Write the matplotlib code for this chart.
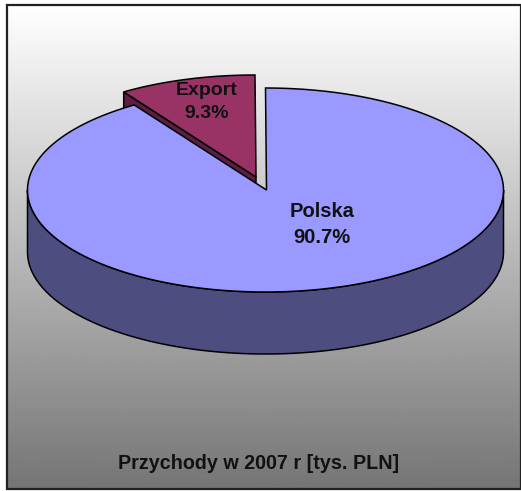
"""
plot.py - 3D look pie, Przychody w 2007 r
"""

import numpy as np
import matplotlib
matplotlib.use("Agg")
import matplotlib.pyplot as plt
from matplotlib.patches import Polygon, Rectangle

plt.rcParams["font.family"] = ["Liberation Sans", "DejaVu Sans"]

categories = ["Polska", "Export"]
shares = [90.7, 9.3]
title = "Przychody w 2007 r [tys. PLN]"

W, H = 521, 491
CX, CY = 265.5, 190    # centre of pie top, pixels
RX, RY = 238, 102
DEPTH = 62
EXPLODE = (-10.5, -13)   # Export slice offset

fig = plt.figure(figsize=(W / 100, H / 100), dpi=100)
ax = fig.add_axes([0, 0, 1, 1])
ax.set_xlim(0, W)
ax.set_ylim(H, 0)
ax.axis("off")

# background gradient inside frame
grad = np.linspace(1.0, 0.46, 256).reshape(-1, 1)
ax.imshow(grad, cmap="gray", vmin=0, vmax=1, extent=(7, W, 489, 5), aspect="auto", zorder=0)
ax.set_xlim(0, W)
ax.set_ylim(H, 0)
ax.add_patch(Rectangle((7, 5), W - 7.5, 484, fill=False, ec="#222222", lw=1.6, zorder=1))


def rim(a0, a1, dx=0, dy=0, n=200):
    # angles in degrees, clockwise from 12 o'clock
    t = np.radians(np.linspace(a0, a1, n))
    return np.column_stack([CX + dx + RX * np.sin(t), CY + dy - RY * np.cos(t)])


polska_end = shares[0] / sum(shares) * 360
apex = np.array([[CX + 1, CY]])
eapex = np.array([[CX + 1 + EXPLODE[0], CY + EXPLODE[1]]])
drop = np.array([0, DEPTH])

# Export slice: side first, top after, Polska covers the rest
etop = rim(polska_end, 360, *EXPLODE)
ax.add_patch(Polygon(np.vstack([etop[:1], eapex, eapex + drop, etop[:1] + drop]),
                     fc="#5a1f42", ec="black", lw=1.1, zorder=2))
ax.add_patch(Polygon(np.vstack([eapex, etop]), fc="#993366", ec="black", lw=1.1, zorder=3))

# Polska side wall then top
front = rim(90, 270)
ax.add_patch(Polygon(np.vstack([front, (front + drop)[::-1]]),
                     fc="#4d4d80", ec="black", lw=1.1, zorder=4))
ax.add_patch(Polygon(np.vstack([apex, rim(0, polska_end)]),
                     fc="#9999ff", ec="black", lw=1.1, zorder=5))

# labels
ax.text(322, 224.5, f"{categories[0]}\n{shares[0]}%", ha="center", va="center",
        fontsize=14.5, fontweight="bold", color="#111111", linespacing=1.5, zorder=6)
ax.text(207, 102, f"{categories[1]}\n{shares[1]}%", ha="center", va="center",
        fontsize=14, fontweight="bold", color="#111111", linespacing=1.5, zorder=6)
ax.text(259, 463.5, title, ha="center", va="center",
        fontsize=14.2, fontweight="bold", color="#111111", zorder=6)

fig.savefig("out.png", dpi=100)
plt.close(fig)
